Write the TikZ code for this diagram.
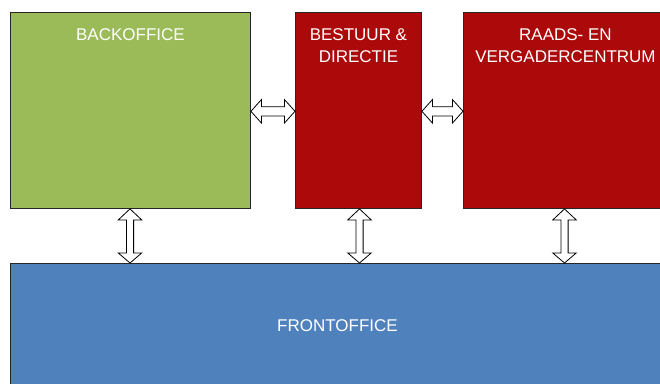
\documentclass[tikz,border=0pt]{standalone}
\usepackage{fontspec}
\setmainfont{Liberation Sans}
\usetikzlibrary{calc}
\definecolor{bogreen}{RGB}{155,187,89}
\definecolor{bored}{RGB}{172,10,10}
\definecolor{foblue}{RGB}{79,129,189}
\tikzset{
  block/.style={draw=black!85, line width=0.9pt, inner sep=0pt, anchor=north west},
  label/.style={text=white, font=\fontsize{17}{22}\selectfont, align=center, inner sep=0pt, anchor=north},
  barrow/.style={draw=black, fill=white, line width=0.8pt, line join=miter}
}
\begin{document}
\begin{tikzpicture}[x=1pt,y=-1pt]
\useasboundingbox (0,0) rectangle (660,383);
\clip (0,0) rectangle (660,383);
\node[block, fill=bogreen, minimum width=240pt, minimum height=196pt] (back) at (10,12) {};
\node[block, fill=bored, minimum width=126pt, minimum height=196pt] (best) at (295,12) {};
\node[block, fill=bored, minimum width=204pt, minimum height=196pt] (raad) at (463,12) {};
\node[block, fill=foblue, minimum width=655pt, minimum height=126pt] (front) at (10,263) {};
\node[label] (tback) at (back.center |- 0,28.3) {BACKOFFICE};
\node[label] (tbest) at (best.center |- 0,28.3) {BESTUUR \&\\DIRECTIE};
\node[label] (traad) at (raad.center |- 0,28.3) {RAADS- EN\\VERGADERCENTRUM};
\node[text=white, font=\fontsize{17}{22}\selectfont, inner sep=0pt] (tfront) at (337.5,326) {FRONTOFFICE};
% horizontal double arrows
\coordinate (h1a) at (back.east |- 0,111.3);
\coordinate (h1b) at (best.west |- 0,111.3);
\coordinate (h2a) at (best.east |- 0,111.3);
\coordinate (h2b) at (raad.west |- 0,111.3);
\foreach \a/\b in {h1a/h1b, h2a/h2b}{
  \draw[barrow] (\a) -- ([shift={(10.5,-11.7)}]\a) -- ([shift={(10.5,-4.6)}]\a)
    -- ([shift={(-10.5,-4.6)}]\b) -- ([shift={(-10.5,-11.7)}]\b) -- (\b)
    -- ([shift={(-10.5,11.7)}]\b) -- ([shift={(-10.5,4.6)}]\b)
    -- ([shift={(10.5,4.6)}]\a) -- ([shift={(10.5,11.7)}]\a) -- cycle;
}
% vertical double arrows
\coordinate (v1a) at (130,0 |- back.south);
\coordinate (v1b) at (130,0 |- front.north);
\coordinate (v2a) at (359.5,0 |- best.south);
\coordinate (v2b) at (359.5,0 |- front.north);
\coordinate (v3a) at (564.5,0 |- raad.south);
\coordinate (v3b) at (564.5,0 |- front.north);
\foreach \a/\b in {v1a/v1b, v2a/v2b, v3a/v3b}{
  \draw[barrow] (\a) -- ([shift={(11.7,11)}]\a) -- ([shift={(3.6,11)}]\a)
    -- ([shift={(3.6,-10)}]\b) -- ([shift={(11.7,-10)}]\b) -- (\b)
    -- ([shift={(-11.7,-10)}]\b) -- ([shift={(-3.6,-10)}]\b)
    -- ([shift={(-3.6,11)}]\a) -- ([shift={(-11.7,11)}]\a) -- cycle;
}
\end{tikzpicture}
\end{document}
